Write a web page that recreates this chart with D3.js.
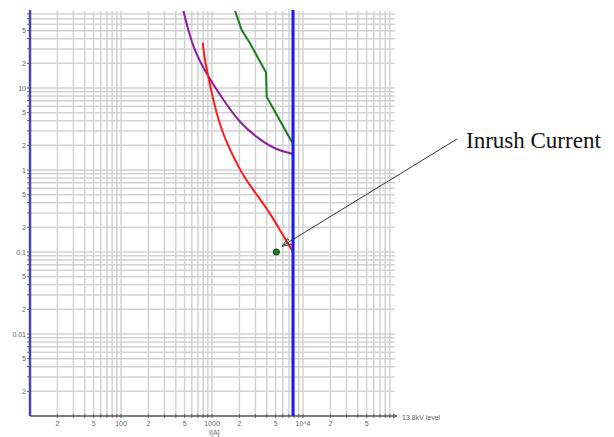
<!DOCTYPE html>
<html><head><meta charset="utf-8">
<script src="https://cdn.jsdelivr.net/npm/d3@7/dist/d3.min.js"></script>
<style>body{margin:0;background:#fff}svg{display:block}</style>
</head><body>
<svg id="c" width="614" height="437"></svg>
<script>
// Data (current in A, time in s)
const purpleI = [462, 484, 623, 911, 1331, 2031, 3369, 5140, 7760];
const purpleT = [110, 87.6, 29.1, 13.7, 7.14, 3.71, 2.32, 1.75, 1.57];
const greenI = [1740, 1789, 2121, 2616, 3922, 3990, 7760];
const greenT = [100, 87.6, 51.0, 35.1, 15.4, 7.83, 2.08];
const redI = [790, 830, 911, 992, 1224, 1577, 2208, 3228, 4339, 5588, 7760];
const redT = [35.7, 22.5, 13.7, 8.62, 3.37, 1.75, 0.829, 0.472, 0.296, 0.1855, 0.1];
const limitI = 7760;
const inrushI = [5100];
const inrushT = [0.1];
const arrowTip = [5900, 0.118];
const xTickVals = [20, 50, 100, 200, 500, 1000, 2000, 5000, 10000, 20000, 50000];
const xTickLabels = ["2", "5", "100", "2", "5", "1000", "2", "5", "10^4", "2", "5"];
const yTickVals = [50, 20, 10, 5, 2, 1, 0.5, 0.2, 0.1, 0.05, 0.02, 0.01, 0.005, 0.002];
const yTickLabels = ["5", "2", "10", "5", "2", "1", "5", "2", "0.1", "5", "2", "0.01", "5", "2"];

(function () {
const svg = d3.select("#c");
const x = d3.scaleLog().domain([10, 1e5]).range([30, 394]);
const y = d3.scaleLog().domain([0.001, 100]).range([416, 6]);
const pTop = 11, pBottom = 416, pLeft = 30, pRight = 395;

const gridX = [], gridY = [];
for (let e = 1; e < 5; e++) for (let m = 1; m < 10; m++) { const v = m * Math.pow(10, e); if (v > 10) gridX.push(v); }
for (let e = -3; e < 2; e++) for (let m = 1; m < 10; m++) { const v = m * Math.pow(10, e); if (v > 0.0011 && y(v) > pTop) gridY.push(v); }

const g = svg.append("g");
g.selectAll(".gx").data(gridX).join("line")
  .attr("x1", d => x(d)).attr("x2", d => x(d)).attr("y1", pTop).attr("y2", pBottom)
  .attr("stroke", "#d2d2d2").attr("stroke-width", 1.5);
g.selectAll(".gy").data(gridY).join("line")
  .attr("x1", pLeft).attr("x2", pRight).attr("y1", d => y(d)).attr("y2", d => y(d))
  .attr("stroke", "#d2d2d2").attr("stroke-width", 1.5);

g.selectAll(".tx").data(gridX).join("line")
  .attr("x1", d => x(d)).attr("x2", d => x(d)).attr("y1", pBottom - 2).attr("y2", pBottom + 2)
  .attr("stroke", "#666").attr("stroke-width", 1);
g.selectAll(".ty").data(gridY).join("line")
  .attr("x1", pLeft - 3).attr("x2", pLeft).attr("y1", d => y(d)).attr("y2", d => y(d))
  .attr("stroke", "#666").attr("stroke-width", 1);

g.append("line").attr("x1", pLeft).attr("x2", pRight + 1).attr("y1", pBottom).attr("y2", pBottom)
  .attr("stroke", "#555").attr("stroke-width", 1.5);
g.append("path").attr("d", `M${pRight-2},${pBottom-2}L${pRight+2},${pBottom}L${pRight-2},${pBottom+2}`)
  .attr("fill", "none").attr("stroke", "#555").attr("stroke-width", 1);

g.selectAll(".lx").data(xTickVals).join("text")
  .attr("x", d => x(d)).attr("y", 426).attr("text-anchor", "middle")
  .attr("font-family", "Liberation Sans, Arial, sans-serif").attr("font-size", 7).attr("fill", "#666")
  .text((d, i) => xTickLabels[i]);
g.selectAll(".ly").data(yTickVals).join("text")
  .attr("x", pLeft - 4).attr("y", d => y(d) + 2.5).attr("text-anchor", "end")
  .attr("font-family", "Liberation Sans, Arial, sans-serif").attr("font-size", 7).attr("fill", "#666")
  .text((d, i) => yTickLabels[i]);
g.append("text").attr("x", x(1000) - 3).attr("y", 435).attr("text-anchor", "start")
  .attr("font-family", "Liberation Sans, Arial, sans-serif").attr("font-size", 7).attr("fill", "#666").text("I[A]");
g.append("text").attr("x", 402).attr("y", 420)
  .attr("font-family", "Liberation Sans, Arial, sans-serif").attr("font-size", 7).attr("fill", "#666").text("13.8kV level");

svg.append("clipPath").attr("id", "clip").append("rect")
  .attr("x", pLeft).attr("y", pTop).attr("width", pRight - pLeft).attr("height", pBottom - pTop);
const pg = svg.append("g").attr("clip-path", "url(#clip)");

const smooth = d3.line().x(d => x(d[0])).y(d => y(d[1])).curve(d3.curveBasis);
const straight = d3.line().x(d => x(d[0])).y(d => y(d[1]));
pg.append("path").attr("d", smooth(purpleI.map((v, i) => [v, purpleT[i]])))
  .attr("fill", "none").attr("stroke", "#8b1d9b").attr("stroke-width", 2);
pg.append("path").attr("d", straight(greenI.map((v, i) => [v, greenT[i]])))
  .attr("fill", "none").attr("stroke", "#1c7d1c").attr("stroke-width", 2);
pg.append("path").attr("d", smooth(redI.map((v, i) => [v, redT[i]])))
  .attr("fill", "none").attr("stroke", "#ff1a1a").attr("stroke-width", 2);

svg.append("line").attr("x1", x(limitI)).attr("x2", x(limitI)).attr("y1", pTop - 1).attr("y2", pBottom)
  .attr("stroke", "#1a1aff").attr("stroke-width", 3);
svg.append("line").attr("x1", pLeft).attr("x2", pLeft).attr("y1", pTop - 1).attr("y2", pBottom)
  .attr("stroke", "#4646a8").attr("stroke-width", 2.5);

svg.selectAll(".pt").data(inrushI).join("circle")
  .attr("cx", d => x(d)).attr("cy", (d, i) => y(inrushT[i])).attr("r", 3)
  .attr("fill", "#1f8a1f").attr("stroke", "#0a2a0a").attr("stroke-width", 1);

const defs = svg.append("defs");
defs.append("marker").attr("id", "ah").attr("viewBox", "0 0 10 10").attr("refX", 10).attr("refY", 5)
  .attr("markerWidth", 9).attr("markerHeight", 9).attr("markerUnits", "userSpaceOnUse").attr("orient", "auto")
  .append("path").attr("d", "M0,1L10,5L0,9Z").attr("fill", "none").attr("stroke", "#333").attr("stroke-width", 1);
svg.append("line").attr("x1", 457).attr("y1", 139).attr("x2", x(arrowTip[0])).attr("y2", y(arrowTip[1]))
  .attr("stroke", "#333").attr("stroke-width", 1).attr("marker-end", "url(#ah)");
svg.append("text").attr("x", 466).attr("y", 148)
  .attr("font-family", "Liberation Serif, Times New Roman, serif").attr("font-size", 23).attr("fill", "#111")
  .text("Inrush Current");
})();
</script>
</body></html>
